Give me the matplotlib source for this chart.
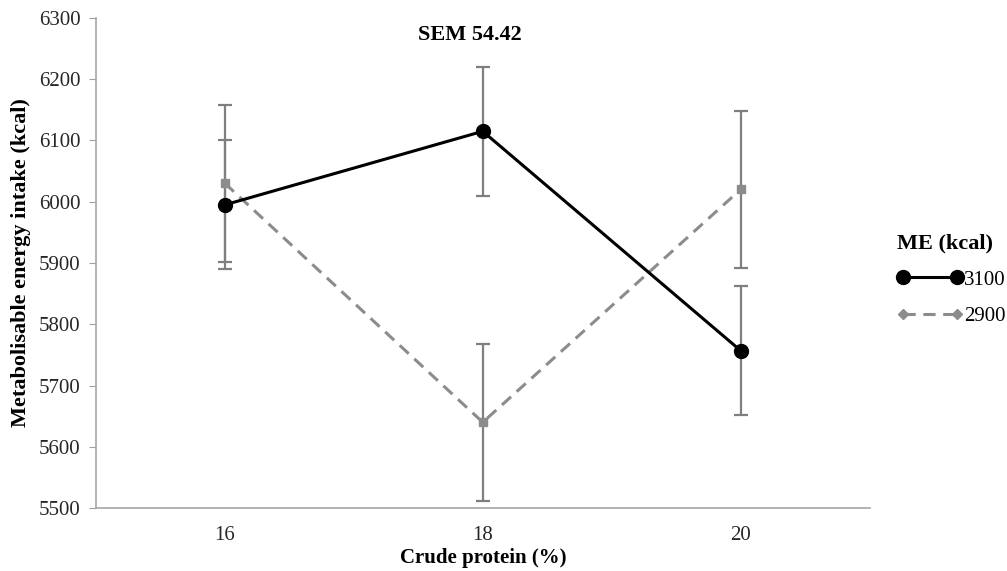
import matplotlib
matplotlib.use("Agg")
import matplotlib.pyplot as plt
from matplotlib.lines import Line2D

categories = ["16", "18", "20"]
me_3100 = [5995, 6115, 5757]
err_3100 = [105, 105, 105]
me_2900 = [6030, 5640, 6020]
err_2900 = [128, 128, 128]
series_labels = ["3100", "2900"]
legend_title = "ME (kcal)"
sem_text = "SEM 54.42"

plt.rcParams['font.family'] = ['Liberation Serif', 'DejaVu Serif']

fig = plt.figure(figsize=(10.07, 5.71), dpi=100)
ax = fig.add_axes([0.0953, 0.1103, 0.7682, 0.8582])

x = list(range(len(categories)))
grey = "#7f7f7f"

ax.errorbar(x, me_2900, yerr=err_2900, fmt='none', ecolor=grey, elinewidth=1.6,
            capsize=5, capthick=1.6, zorder=2)
ax.errorbar(x, me_3100, yerr=err_3100, fmt='none', ecolor=grey, elinewidth=1.6,
            capsize=5, capthick=1.6, zorder=2)
ax.plot(x, me_2900, color="#8c8c8c", linestyle=(0, (4, 2.5)), linewidth=2.2,
        marker='s', markersize=6, markeredgecolor="#8c8c8c", zorder=3)
ax.plot(x, me_3100, color="black", linewidth=2.2, marker='o', markersize=10, zorder=4)

ax.set_xlim(-0.5, len(categories) - 0.5)
ax.set_ylim(5500, 6300)
ax.set_yticks(range(5500, 6301, 100))
ax.set_xticks(x)
ax.set_xticklabels(categories)
ax.tick_params(axis='x', length=0, pad=13, labelsize=15, colors="#262626")
ax.tick_params(axis='y', length=5, color="#a0a0a0", pad=6, labelsize=15, labelcolor="#262626")

for s in ['top', 'right']:
    ax.spines[s].set_visible(False)
for s in ['left', 'bottom']:
    ax.spines[s].set_color("#a6a6a6")
    ax.spines[s].set_linewidth(1.2)

ax.set_xlabel("Crude protein (%)", fontsize=15, fontweight='bold', labelpad=2)
ax.set_ylabel("Metabolisable energy intake (kcal)", fontsize=16, fontweight='bold', labelpad=6)

ax.text(0.483, 0.985, sem_text, transform=ax.transAxes, ha='center', va='top',
        fontsize=16, fontweight='bold')

handles = [
    Line2D([0], [0], color='black', linewidth=2.2, marker='o', markersize=10),
    Line2D([0], [0], color="#8c8c8c", linestyle=(0, (4, 2.5)), linewidth=2.2,
           marker='D', markersize=5),
]
leg = fig.legend(handles, series_labels, title=legend_title, loc='center left',
                 bbox_to_anchor=(0.876, 0.51), frameon=False, fontsize=15,
                 title_fontproperties={'weight': 'bold', 'size': 16},
                 handlelength=3.2, handletextpad=0.05, labelspacing=0.8,
                 numpoints=2, borderpad=0.2)
leg._legend_box.align = "left"

fig.savefig("out.png", dpi=100)
